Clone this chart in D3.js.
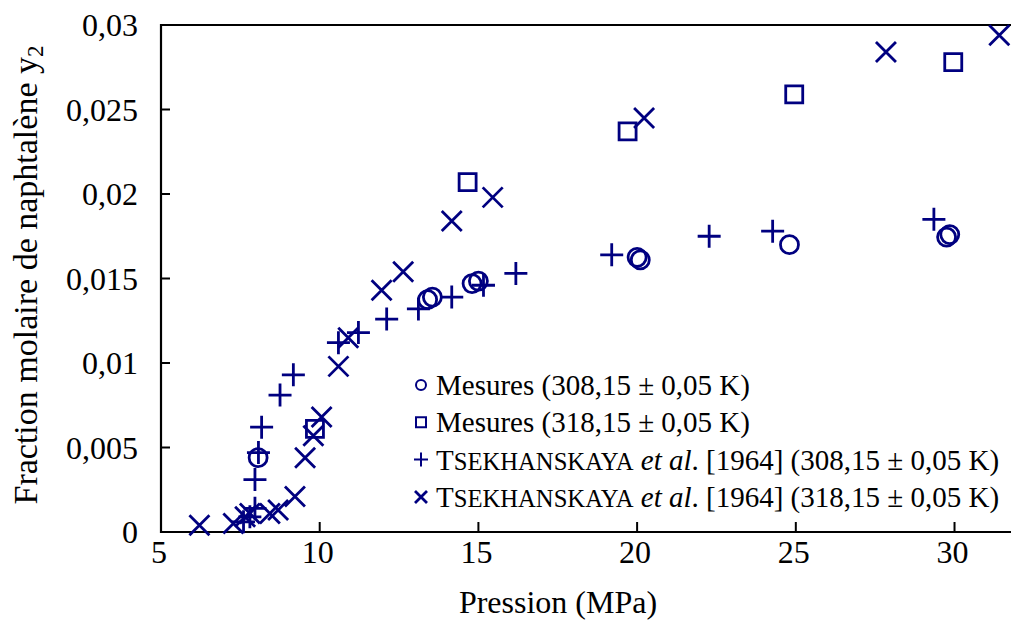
<!DOCTYPE html>
<html>
<head>
<meta charset="utf-8">
<script src="https://cdn.jsdelivr.net/npm/d3@7"></script>
<style>
  body { margin: 0; background: #fff; }
  svg text { font-family: "Liberation Serif", "Times New Roman", serif; fill: #000; }
</style>
</head>
<body>
<svg id="chart" width="1011" height="623"></svg>
<script>
// Mesures (308,15 K)
const mes308P = [8.06, 13.4, 13.55, 14.8, 15.0, 20.0, 20.1, 24.8, 29.75, 29.85];
const mes308Y = [0.0044, 0.01375, 0.0139, 0.0147, 0.01485, 0.01625, 0.0161, 0.0170, 0.01745, 0.0176];

// Mesures (318,15 K)
const mes318P = [9.85, 14.66, 19.7, 24.95, 29.96];
const mes318Y = [0.0061, 0.0207, 0.0237, 0.0259, 0.0278];

// Tsekhanskaya 1964 (308,15 K)
const tsek308P = [7.6, 7.8, 7.96, 7.96, 8.07, 8.17, 8.75, 9.17, 10.59, 11.22, 12.11, 13.11, 14.16, 15.16, 16.18, 19.2, 22.27, 24.27, 29.35];
const tsek308Y = [0.0006, 0.0009, 0.0014, 0.0031, 0.0047, 0.0062, 0.0081, 0.0093, 0.0112, 0.0118, 0.0126, 0.0132, 0.0139, 0.0146, 0.0153, 0.0164, 0.0175, 0.0178, 0.0185];

// Tsekhanskaya 1964 (318,15 K)
const tsek318P = [6.21, 7.28, 7.65, 7.8, 8.43, 8.69, 9.22, 9.54, 9.8, 10.06, 10.59, 10.9, 11.95, 12.63, 14.16, 15.45, 20.22, 27.84, 31.41];
const tsek318Y = [0.0004, 0.0005, 0.0009, 0.0011, 0.0011, 0.0013, 0.0021, 0.0044, 0.0057, 0.0068, 0.0098, 0.0115, 0.0143, 0.0154, 0.0184, 0.0198, 0.0245, 0.0284, 0.0294];

const xTicks = [5, 10, 15, 20, 25, 30];
const xTickLabels = ["5", "10", "15", "20", "25", "30"];
const yTicks = [0, 0.005, 0.01, 0.015, 0.02, 0.025, 0.03];
const yTickLabels = ["0", "0,005", "0,01", "0,015", "0,02", "0,025", "0,03"];

const navy = "#000080";

const svg = d3.select("#chart");

const x = d3.scaleLinear().domain([5, 32]).range([161, 1018]);
const y = d3.scaleLinear().domain([0, 0.03]).range([532, 25]);

/*
 * frame (left, bottom, top ; right side falls outside the picture)
 */
const frame = svg.append("g");
frame.append("path")
  .attr("d", `M${x(32) + 10},${y(0.03)} H${x(5)} V${y(0)} H${x(32) + 10}`)
  .attr("fill", "none")
  .attr("stroke", "#000")
  .attr("stroke-width", 2.2);

// inward ticks
frame.selectAll(".xt").data(xTicks.slice(1)).enter()
  .append("line")
  .attr("x1", d => x(d)).attr("x2", d => x(d))
  .attr("y1", y(0)).attr("y2", y(0) - 10)
  .attr("stroke", "#000").attr("stroke-width", 2);

frame.selectAll(".yt").data(yTicks.slice(1, -1)).enter()
  .append("line")
  .attr("x1", x(5)).attr("x2", x(5) + 9)
  .attr("y1", d => y(d)).attr("y2", d => y(d))
  .attr("stroke", "#000").attr("stroke-width", 2);

// tick labels
svg.selectAll(".xl").data(xTicks).enter()
  .append("text")
  .attr("x", d => x(d) - 2)
  .attr("y", 563)
  .attr("text-anchor", "middle")
  .attr("font-size", 32)
  .text((d, i) => xTickLabels[i]);

svg.selectAll(".yl").data(yTicks).enter()
  .append("text")
  .attr("x", 138)
  .attr("y", d => y(d) + 11)
  .attr("text-anchor", "end")
  .attr("font-size", 32)
  .text((d, i) => yTickLabels[i]);

// axis titles
svg.append("text")
  .attr("x", 558)
  .attr("y", 613)
  .attr("text-anchor", "middle")
  .attr("font-size", 32)
  .text("Pression (MPa)");

const yTitle = svg.append("text")
  .attr("transform", "translate(37,275) rotate(-90)")
  .attr("text-anchor", "middle")
  .attr("font-size", 34);
yTitle.append("tspan").text("Fraction molaire de naphtalène y");
yTitle.append("tspan").attr("font-size", 23).attr("dy", 6).text("2");

/*
 * markers
 */
function marker(type, r) {
  if (type === "circle") {
    return `M${r},0 A${r},${r} 0 1,1 ${-r},0 A${r},${r} 0 1,1 ${r},0 Z`;
  }
  if (type === "square") {
    return `M${-r},${-r} H${r} V${r} H${-r} Z`;
  }
  if (type === "plus") {
    return `M${-r},0 H${r} M0,${-r} V${r}`;
  }
  return `M${-r},${-r} L${r},${r} M${-r},${r} L${r},${-r}`;
}

const series = [
  { type: "circle", r: 9, rl: 5, P: mes308P, Y: mes308Y,
    label: [["Mesures (308,15 ± 0,05 K)", ""]] },
  { type: "square", r: 8.5, rl: 5, P: mes318P, Y: mes318Y,
    label: [["Mesures (318,15 ± 0,05 K)", ""]] },
  { type: "plus", r: 11.5, rl: 7, P: tsek308P, Y: tsek308Y,
    label: [["T", ""], ["SEKHANSKAYA", "sc"], [" ", ""], ["et al", "it"], [". [1964] (308,15 ± 0,05 K)", ""]] },
  { type: "times", r: 10, rl: 6, P: tsek318P, Y: tsek318Y,
    label: [["T", ""], ["SEKHANSKAYA", "sc"], [" ", ""], ["et al", "it"], [". [1964] (318,15 ± 0,05 K)", ""]] }
];

const plot = svg.append("g");

series.forEach(s => {
  plot.append("g")
    .selectAll("path")
    .data(s.P.map((p, i) => [p, s.Y[i]]))
    .enter()
    .append("path")
    .attr("transform", d => `translate(${x(d[0])},${y(d[1])})`)
    .attr("d", marker(s.type, s.r))
    .attr("fill", "none")
    .attr("stroke", navy)
    .attr("stroke-width", 2.8);
});

/*
 * legend
 */
const legendSize = 29;
const legend = svg.append("g").attr("transform", "translate(421,385)");

series.forEach((s, i) => {
  const row = legend.append("g").attr("transform", `translate(0,${i * 37.3})`);

  row.append("path")
    .attr("d", marker(s.type, s.rl))
    .attr("fill", "none")
    .attr("stroke", navy)
    .attr("stroke-width", s.type === "times" ? 2.8 : 2);

  const t = row.append("text")
    .attr("x", 15)
    .attr("y", 10)
    .attr("font-size", legendSize);

  s.label.forEach(part => {
    const sp = t.append("tspan").text(part[0]);
    if (part[1] === "sc") sp.attr("font-size", legendSize * 0.85);
    if (part[1] === "it") sp.attr("font-style", "italic");
  });
});
</script>
</body>
</html>
